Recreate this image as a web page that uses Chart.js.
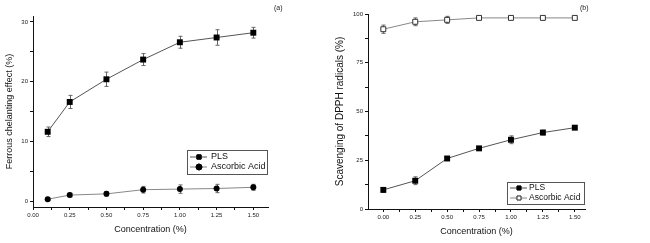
<!DOCTYPE html>
<html>
<head>
<meta charset="utf-8">
<script src="https://cdn.jsdelivr.net/npm/chart.js@4/dist/chart.umd.min.js"></script>
<style>
  html, body { margin: 0; padding: 0; background: #fff; }
  .box { position: absolute; top: 0; width: 325px; height: 243px; }
  #wrapA { left: 0; }
  #wrapB { left: 325px; }
</style>
</head>
<body>
<div class="box" id="wrapA"><canvas id="chartA" width="325" height="243"></canvas></div>
<div class="box" id="wrapB"><canvas id="chartB" width="325" height="243"></canvas></div>
<script>
// (a) ferrous chelating
const concA = [0.1, 0.25, 0.5, 0.75, 1.0, 1.25, 1.5];
const plsA = [11.6, 16.6, 20.4, 23.7, 26.6, 27.4, 28.2];
const plsAErr = [0.8, 1.1, 1.2, 1.0, 1.0, 1.3, 0.9];
const ascA = [0.3, 1.0, 1.2, 1.9, 2.0, 2.1, 2.3];
const ascAErr = [0.2, 0.3, 0.4, 0.55, 0.7, 0.7, 0.5];

// (b) DPPH scavenging
const concB = [0, 0.25, 0.5, 0.75, 1.0, 1.25, 1.5];
const plsB = [9.8, 14.5, 25.9, 31.1, 35.5, 39.2, 41.7];
const plsBErr = [1.2, 2.0, 1.0, 0.8, 2.0, 1.2, 0.8];
const ascB = [92.2, 96.0, 97.0, 98.0, 98.0, 98.0, 98.0];
const ascBErr = [2.1, 2.0, 1.8, 0.6, 0.4, 0.5, 0.4];

const seriesNames = ['PLS', 'Ascorbic Acid'];
const FONT = '"Liberation Sans", Arial, sans-serif';

function pts(xs, ys) {
  return xs.map((x, i) => ({ x: x, y: ys[i] }));
}

// error bars drawn through the scales
const errorBars = {
  id: 'errorBars',
  beforeDatasetsDraw(chart) {
    const ctx = chart.ctx;
    const xs = chart.scales.x, ys = chart.scales.y;
    ctx.save();
    ctx.strokeStyle = '#666';
    ctx.lineWidth = 1;
    chart.data.datasets.forEach(ds => {
      ds.data.forEach((p, i) => {
        const e = ds.err[i];
        const px = Math.round(xs.getPixelForValue(p.x)) + 0.5;
        const top = ys.getPixelForValue(p.y + e);
        const bot = ys.getPixelForValue(p.y - e);
        ctx.beginPath();
        ctx.moveTo(px, top); ctx.lineTo(px, bot);
        ctx.moveTo(px - 2, top); ctx.lineTo(px + 2, top);
        ctx.moveTo(px - 2, bot); ctx.lineTo(px + 2, bot);
        ctx.stroke();
      });
    });
    ctx.restore();
  }
};

// legend box + panel label
const boxLegend = {
  id: 'boxLegend',
  afterDraw(chart, args, opts) {
    const ctx = chart.ctx;
    ctx.save();
    ctx.strokeStyle = '#555';
    ctx.lineWidth = 1;
    ctx.strokeRect(opts.x + 0.5, opts.y + 0.5, opts.w, opts.h);
    chart.data.datasets.forEach((ds, i) => {
      const y = opts.y + opts.rowY[i];
      ctx.strokeStyle = ds.borderColor;
      ctx.beginPath();
      ctx.moveTo(opts.x + 3, y); ctx.lineTo(opts.x + 20, y);
      ctx.stroke();
      Chart.helpers.drawPoint(ctx, {
        pointStyle: ds.pointStyle, radius: opts.markR,
        borderWidth: 1, rotation: 0
      }, opts.x + 12, y);
      ctx.fillStyle = ds.pointBackgroundColor;
      ctx.strokeStyle = ds.pointBorderColor;
      ctx.fill(); ctx.stroke();
      ctx.fillStyle = '#111';
      ctx.font = opts.fontSize + 'px ' + FONT;
      ctx.textBaseline = 'middle';
      ctx.fillText(ds.label, opts.x + opts.textX, y);
    });
    ctx.font = '7px ' + FONT;
    ctx.fillStyle = '#222';
    ctx.textBaseline = 'middle';
    ctx.fillText(opts.tag, opts.tagX, 8);
    ctx.restore();
  }
};

function onStep(v, step) {
  const r = v / step;
  return Math.abs(r - Math.round(r)) < 1e-6;
}

function makeChart(id, cfg) {
  return new Chart(document.getElementById(id), {
    type: 'line',
    data: { datasets: cfg.datasets },
    plugins: [errorBars, boxLegend],
    options: {
      responsive: false,
      animation: false,
      layout: { padding: cfg.padding },
      plugins: {
        legend: { display: false },
        tooltip: { enabled: false },
        boxLegend: cfg.legend
      },
      scales: {
        x: {
          type: 'linear',
          min: cfg.xMin, max: cfg.xMax,
          afterFit(s) { s.height = cfg.xHeight; },
          border: { display: true, color: '#111', width: 1 },
          grid: { drawOnChartArea: false, drawTicks: true, tickLength: 3, tickColor: '#111' },
          ticks: {
            stepSize: 0.125, includeBounds: false, autoSkip: false, maxRotation: 0, padding: 2,
            color: '#222', font: { family: FONT, size: 6 },
            callback: v => !onStep(v, 0.125) ? null : (onStep(v, 0.25) ? v.toFixed(2) : '')
          },
          title: {
            display: true, text: 'Concentration (%)', color: '#111',
            font: { family: FONT, size: 9 }, padding: { top: 0, bottom: cfg.xTitlePad }
          }
        },
        y: {
          min: cfg.yMin, max: cfg.yMax,
          afterFit(s) { s.width = cfg.yWidth; },
          border: { display: true, color: '#111', width: 1 },
          grid: { drawOnChartArea: false, drawTicks: true, tickLength: 3, tickColor: '#111' },
          ticks: {
            stepSize: cfg.yStep / 2, includeBounds: false, autoSkip: false, padding: 2,
            color: '#222', font: { family: FONT, size: 6 },
            callback: v => !onStep(v, cfg.yStep / 2) ? null : (onStep(v, cfg.yStep) ? String(v) : '')
          },
          title: {
            display: true, text: cfg.yTitle, color: '#111',
            font: { family: FONT, size: cfg.yTitleSize }, padding: { top: cfg.yTitlePad, bottom: 0 }
          }
        }
      }
    }
  });
}

makeChart('chartA', {
  datasets: [
    {
      label: seriesNames[0], data: pts(concA, plsA), err: plsAErr,
      borderColor: '#555', borderWidth: 1, pointStyle: 'rect', pointRadius: 4.2,
      pointBackgroundColor: '#000', pointBorderColor: '#000', pointBorderWidth: 0
    },
    {
      label: seriesNames[1], data: pts(concA, ascA), err: ascAErr,
      borderColor: '#888', borderWidth: 1, pointStyle: 'circle', pointRadius: 3,
      pointBackgroundColor: '#000', pointBorderColor: '#000', pointBorderWidth: 0
    }
  ],
  padding: { top: 16, right: 57, left: 0, bottom: 0 },
  xMin: 0, xMax: 1.6, xHeight: 36, xTitlePad: 8,
  yMin: -1, yMax: 31, yStep: 10, yWidth: 33,
  yTitle: 'Ferrous chelanting effect (%)', yTitleSize: 9, yTitlePad: 4,
  legend: { x: 187, y: 150, w: 80, h: 24, rowY: [7, 17], tag: '(a)', tagX: 274,
            markR: 3, fontSize: 9, textX: 24 }
});

makeChart('chartB', {
  datasets: [
    {
      label: seriesNames[0], data: pts(concB, plsB), err: plsBErr,
      borderColor: '#555', borderWidth: 1, pointStyle: 'rect', pointRadius: 4.2,
      pointBackgroundColor: '#000', pointBorderColor: '#000', pointBorderWidth: 0
    },
    {
      label: seriesNames[1], data: pts(concB, ascB), err: ascBErr,
      borderColor: '#888', borderWidth: 1, pointStyle: 'rect', pointRadius: 3.5,
      pointBackgroundColor: '#fff', pointBorderColor: '#333', pointBorderWidth: 1
    }
  ],
  padding: { top: 14, right: 65, left: 0, bottom: 0 },
  xMin: -0.12, xMax: 1.58, xHeight: 34, xTitlePad: 6,
  yMin: 0, yMax: 100, yStep: 25, yWidth: 43,
  yTitle: 'Scavenging of DPPH radicals (%)', yTitleSize: 10, yTitlePad: 9,
  legend: { x: 182, y: 182, w: 77, h: 22, rowY: [6, 16], tag: '(b)', tagX: 255,
            markR: 2.8, fontSize: 8.5, textX: 22 }
});
</script>
</body>
</html>
